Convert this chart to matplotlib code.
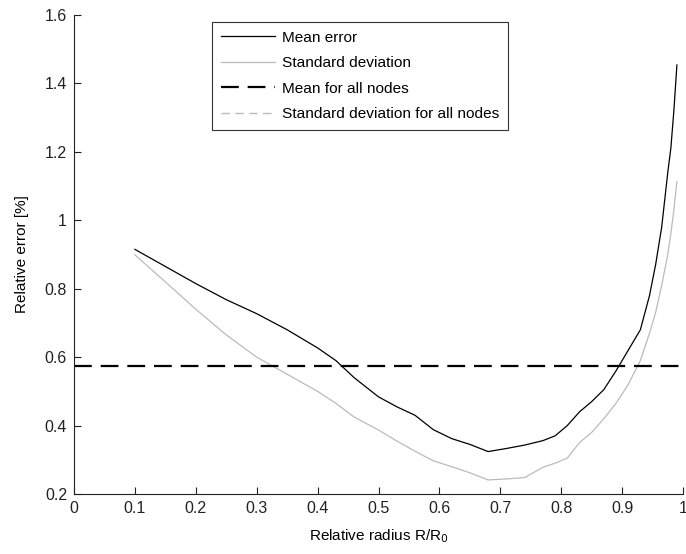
import matplotlib
matplotlib.use("Agg")
import matplotlib.pyplot as plt

radius = [0.10, 0.15, 0.20, 0.25, 0.30, 0.35, 0.40, 0.43, 0.46, 0.50, 0.53, 0.56,
          0.59, 0.62, 0.65, 0.68, 0.71, 0.74, 0.77, 0.79, 0.81, 0.83, 0.85, 0.87,
          0.89, 0.91, 0.93, 0.945, 0.955, 0.965, 0.975, 0.98, 0.985, 0.99]
mean_error = [0.915, 0.865, 0.815, 0.768, 0.727, 0.680, 0.627, 0.590, 0.540, 0.484,
              0.455, 0.430, 0.388, 0.362, 0.345, 0.324, 0.333, 0.343, 0.356, 0.370,
              0.400, 0.440, 0.470, 0.505, 0.560, 0.620, 0.680, 0.780, 0.870, 0.980,
              1.140, 1.210, 1.320, 1.454]
std_dev = [0.899, 0.820, 0.740, 0.665, 0.600, 0.550, 0.500, 0.465, 0.425, 0.387,
           0.355, 0.325, 0.297, 0.280, 0.262, 0.241, 0.244, 0.248, 0.278, 0.290,
           0.305, 0.350, 0.380, 0.420, 0.465, 0.520, 0.590, 0.670, 0.730, 0.810,
           0.900, 0.960, 1.030, 1.113]
mean_all = 0.574
std_all = 0.15

plt.rcParams['font.family'] = ['Liberation Sans', 'DejaVu Sans']

fig = plt.figure(figsize=(6.86, 5.54), dpi=100)
ax = fig.add_axes([74/686, 1 - 494/554, 609/686, 479/554])

ax.plot(radius, mean_error, color='black', lw=0.9, label='Mean error')
ax.plot(radius, std_dev, color='#bbbbbb', lw=0.9, label='Standard deviation')
ax.axhline(mean_all, color='black', lw=1.6, dashes=(8, 4), label='Mean for all nodes')
ax.axhline(std_all, color='#bbbbbb', lw=1.0, dashes=(6, 4), label='Standard deviation for all nodes')

ax.set_xlim(0, 1)
ax.set_ylim(0.2, 1.6)
ax.set_xticks([0, 0.1, 0.2, 0.3, 0.4, 0.5, 0.6, 0.7, 0.8, 0.9, 1])
ax.set_xticklabels(['0', '0.1', '0.2', '0.3', '0.4', '0.5', '0.6', '0.7', '0.8', '0.9', '1'])
ax.set_yticks([0.2, 0.4, 0.6, 0.8, 1.0, 1.2, 1.4, 1.6])
ax.set_yticklabels(['0.2', '0.4', '0.6', '0.8', '1', '1.2', '1.4', '1.6'])
ax.tick_params(direction='in', length=5, width=0.8, labelsize=11.5, colors='#222222', pad=5)
ax.spines['top'].set_visible(False)
ax.spines['right'].set_visible(False)
for s in ('left', 'bottom'):
    ax.spines[s].set_color('#222222')
    ax.spines[s].set_linewidth(0.8)

ax.set_xlabel('Relative radius R/R$_0$', fontsize=11, labelpad=8)
ax.set_ylabel('Relative error [%]', fontsize=11, labelpad=11)

leg = ax.legend(loc='upper left', bbox_to_anchor=(0.227, 0.985), borderaxespad=0,
                fontsize=11.1, frameon=True, fancybox=False, edgecolor='black',
                handlelength=3.5, handletextpad=0.5, borderpad=0.55, labelspacing=0.75)
leg.get_frame().set_linewidth(0.8)

fig.savefig('out.png', dpi=100)
